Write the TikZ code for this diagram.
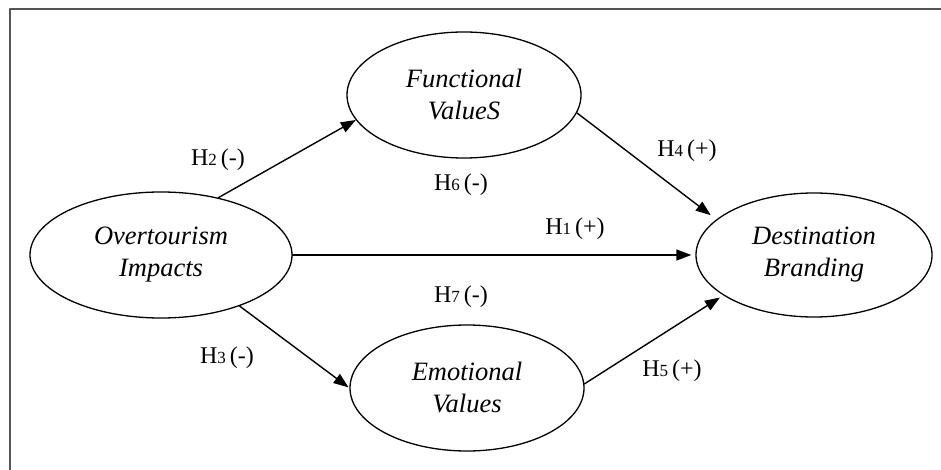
\documentclass[tikz,border=0pt]{standalone}
\usepackage{fontspec}
\setmainfont{Liberation Serif}
\usetikzlibrary{arrows.meta,shapes.geometric}
\definecolor{framegray}{RGB}{85,85,85}
\tikzset{
  every node/.style={font=\fontsize{24}{28}\selectfont},
  latent/.style={ellipse, draw=black, line width=1.3pt, inner sep=0pt,
    align=center, font=\fontsize{26.5}{32}\selectfont\itshape},
  hyp label/.style={inner sep=1pt},
  link/.style={line width=1.4pt, -{Triangle[length=15pt,width=11pt]}},
  frame line/.style={draw=framegray, line width=2.5pt}
}
\newcommand{\hyp}[2]{H{\fontsize{17}{17}\selectfont #1}\,(#2)}

\begin{document}
\begin{tikzpicture}[x=1pt,y=-1pt,line cap=round,line join=round]
  \useasboundingbox (0,0) rectangle (941,470);

  % frame
  \draw[frame line, line cap=butt] (10,471) -- (10,9) -- (942,9);

  % constructs
  \node[latent, minimum width=262pt, minimum height=126pt] (ov) at (161,255) {Overtourism\\Impacts};
  \node[latent, minimum width=234pt, minimum height=126pt] (fv) at (464,95) {Functional\\ValueS};
  \node[latent, minimum width=234pt, minimum height=126pt] (ev) at (467,388) {Emotional\\Values};
  \node[latent, minimum width=236pt, minimum height=124pt] (db) at (814,255) {Destination\\Branding};

  % paths
  \draw[link] (ov.45) -- (fv.193);
  \draw[link, shorten >=7pt] (fv.-9) -- (db.160);
  \draw[link, shorten >=4pt] (ov.east) -- (db.west);
  \draw[link, shorten >=1pt] (ov.-33.5) -- (ev.west);
  \draw[link, shorten >=4pt] (ev.2) -- (db.204);

  % hypotheses
  \node[hyp label] (h2) at (218,160) {\hyp{2}{-}};
  \node[hyp label] (h6) at (461,185) {\hyp{6}{-}};
  \node[hyp label] (h4) at (687,151) {\hyp{4}{+}};
  \node[hyp label] (h1) at (575,229) {\hyp{1}{+}};
  \node[hyp label] (h7) at (461,297) {\hyp{7}{-}};
  \node[hyp label] (h3) at (227,358) {\hyp{3}{-}};
  \node[hyp label] (h5) at (672,371) {\hyp{5}{+}};
\end{tikzpicture}
\end{document}
